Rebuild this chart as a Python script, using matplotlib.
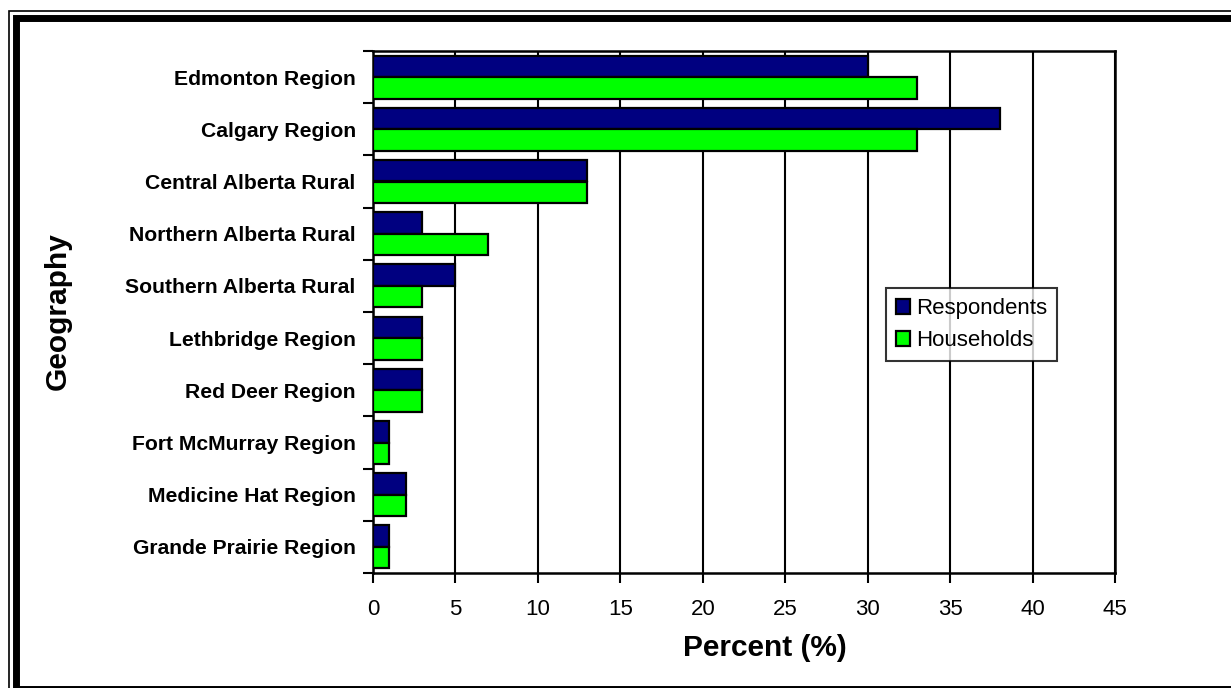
import numpy as np
import matplotlib
matplotlib.use("Agg")
import matplotlib.pyplot as plt
from matplotlib.patches import Rectangle

regions = [
    "Edmonton Region",
    "Calgary Region",
    "Central Alberta Rural",
    "Northern Alberta Rural",
    "Southern Alberta Rural",
    "Lethbridge Region",
    "Red Deer Region",
    "Fort McMurray Region",
    "Medicine Hat Region",
    "Grande Prairie Region",
]
respondents = [30, 38, 13, 3, 5, 3, 3, 1, 2, 1]
households = [33, 33, 13, 7, 3, 3, 3, 1, 2, 1]

W, H = 1231, 688
plt.rcParams["font.family"] = ["Liberation Sans", "DejaVu Sans"]

fig = plt.figure(figsize=(W / 100, H / 100), dpi=100)
ax = fig.add_axes([373 / W, 1 - 573 / H, (1115 - 373) / W, (573 - 51) / H])

y = np.arange(len(regions))
bh = 0.41
ax.barh(y - bh / 2, respondents, height=bh, color="#000080",
        edgecolor="black", linewidth=1.6, label="Respondents", zorder=3)
ax.barh(y + bh / 2, households, height=bh, color="#00FF00",
        edgecolor="black", linewidth=1.6, label="Households", zorder=3)

ax.set_xlim(0, 45)
ax.set_ylim(len(regions) - 0.5, -0.5)
ax.set_xticks(np.arange(0, 46, 5))
ax.tick_params(axis="x", labelsize=16, length=7, width=1.5, direction="out", pad=12)
ax.xaxis.grid(True, color="black", linewidth=1.5, zorder=0)
ax.set_axisbelow(True)

# category boundaries carry the ticks, names sit between them
ax.set_yticks(np.arange(-0.5, len(regions), 1))
ax.set_yticklabels([])
ax.set_yticks(y, minor=True)
ax.set_yticklabels(regions, minor=True, fontsize=15.2, fontweight="bold")
ax.tick_params(axis="y", which="major", length=7, width=1.5, direction="out")
ax.tick_params(axis="y", which="minor", length=0, pad=12.5)

for sp in ax.spines.values():
    sp.set_linewidth(1.8)
    sp.set_color("black")

fig.text(765 / W, 1 - 648 / H, "Percent (%)", fontsize=21.5,
         fontweight="bold", ha="center", va="center")
fig.text(58 / W, 1 - 311 / H, "Geography", rotation=90, fontsize=21.5,
         fontweight="bold", ha="center", va="center")

leg = ax.legend(loc="upper left",
                bbox_to_anchor=((886 - 373) / (1115 - 373), 1 - (288 - 51) / (573 - 51)),
                fontsize=16, frameon=True, fancybox=False, edgecolor="black",
                handlelength=0.65, handleheight=0.65, handletextpad=0.25,
                borderpad=0.45, labelspacing=0.5, borderaxespad=0)
leg.get_frame().set_linewidth(1.5)

# double frame around the whole chart
def px_rect(x0, y0, x1, y1, lw):
    return Rectangle((x0 / W, 1 - y1 / H), (x1 - x0) / W, (y1 - y0) / H,
                     transform=fig.transFigure, fill=False, edgecolor="black",
                     linewidth=lw, zorder=10)

fig.add_artist(px_rect(8.5, 10.5, W + 20, H + 20, 1.2))
fig.add_artist(px_rect(15.5, 17.5, W + 20, 688.5, 5.0))

fig.savefig("out.png", dpi=100)
